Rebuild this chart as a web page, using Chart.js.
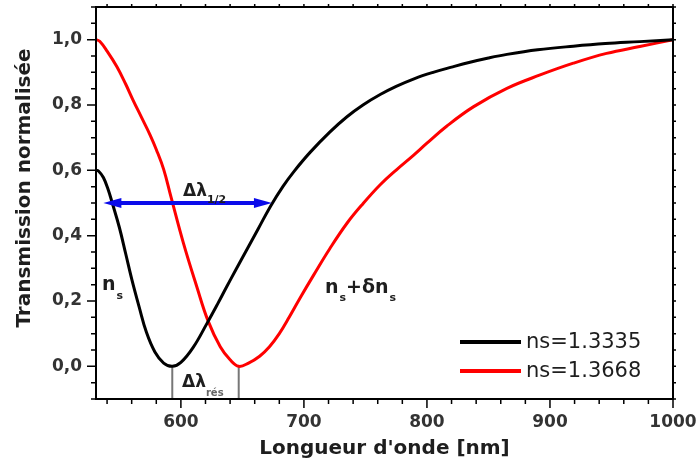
<!DOCTYPE html>
<html>
<head>
<meta charset="utf-8">
<script src="https://cdn.jsdelivr.net/npm/chart.js@4.4.1/dist/chart.umd.min.js"></script>
<style>
  html, body { margin: 0; padding: 0; background: #fff; }
  #wrap { width: 697px; height: 466px; position: relative; }
</style>
</head>
<body>
<div id="wrap"><canvas id="chart"></canvas></div>
<script>
const blackWavelength = [531, 533, 537, 541, 544, 550, 555, 560, 566, 572, 579, 586, 593, 600, 610, 621, 630, 637, 645, 653, 663, 673, 683, 692, 705, 721, 735, 748, 762, 775, 790, 805, 820, 835, 850, 865, 890, 919, 945, 973, 1000];
const blackTransmission = [0.600, 0.598, 0.578, 0.540, 0.503, 0.425, 0.347, 0.268, 0.183, 0.104, 0.043, 0.010, 0.000, 0.012, 0.058, 0.130, 0.192, 0.242, 0.298, 0.353, 0.422, 0.491, 0.551, 0.597, 0.655, 0.717, 0.764, 0.800, 0.832, 0.857, 0.881, 0.900, 0.916, 0.931, 0.944, 0.955, 0.969, 0.980, 0.988, 0.994, 1.000];
const redWavelength = [531, 534, 540, 548, 555, 561, 568, 575, 580, 586, 592, 602, 613, 622, 632, 640, 647, 655, 664, 672, 680, 688, 697, 708, 721, 735, 748, 762, 775, 789, 800, 816, 838, 865, 892, 919, 946, 973, 1000];
const redTransmission = [1.000, 0.995, 0.965, 0.917, 0.865, 0.816, 0.762, 0.708, 0.664, 0.603, 0.518, 0.378, 0.243, 0.140, 0.060, 0.020, 0.000, 0.010, 0.031, 0.060, 0.100, 0.150, 0.210, 0.280, 0.360, 0.438, 0.498, 0.556, 0.601, 0.646, 0.683, 0.735, 0.795, 0.851, 0.892, 0.928, 0.958, 0.979, 1.000];

const seriesLabels = ['ns=1.3335', 'ns=1.3668'];
const seriesColors = ['#000000', '#ff0000'];
const xTicks = [600, 700, 800, 900, 1000];
const yTicks = [0, 0.2, 0.4, 0.6, 0.8, 1.0];
const resonance = [593, 647];      // minima -> drop lines
const halfWidth = [537, 674];      // FWHM arrow ends at 0.5

const FONT = '"DejaVu Sans", Verdana, sans-serif';

function toPoints(xs, ys) {
  return xs.map((x, i) => ({ x: x, y: ys[i] }));
}

// frame, ticks, arrows, labels, legend
const decorations = {
  id: 'decorations',
  beforeDatasetsDraw(chart) {
    const ctx = chart.ctx;
    const x = chart.scales.x, y = chart.scales.y;
    ctx.save();
    ctx.strokeStyle = '#777';
    ctx.lineWidth = 2;
    resonance.forEach(r => {
      const px = x.getPixelForValue(r);
      ctx.beginPath();
      ctx.moveTo(px, y.getPixelForValue(0));
      ctx.lineTo(px, chart.chartArea.bottom);
      ctx.stroke();
    });
    ctx.restore();
  },
  afterDatasetsDraw(chart) {
    const ctx = chart.ctx;
    const a = chart.chartArea;
    const x = chart.scales.x, y = chart.scales.y;
    ctx.save();

    // blue double arrow
    const ay = y.getPixelForValue(0.5);
    const ax1 = x.getPixelForValue(halfWidth[0]);
    const ax2 = x.getPixelForValue(halfWidth[1]);
    ctx.strokeStyle = '#0b0bea';
    ctx.fillStyle = '#0b0bea';
    ctx.lineWidth = 4;
    ctx.beginPath();
    ctx.moveTo(ax1 + 8, ay);
    ctx.lineTo(ax2 - 8, ay);
    ctx.stroke();
    [[ax1, 1], [ax2, -1]].forEach(([px, d]) => {
      ctx.beginPath();
      ctx.moveTo(px, ay);
      ctx.lineTo(px + d * 18, ay - 5);
      ctx.lineTo(px + d * 18, ay + 5);
      ctx.closePath();
      ctx.fill();
    });

    // frame
    ctx.strokeStyle = '#000';
    ctx.lineWidth = 2;
    ctx.strokeRect(a.left, a.top, a.right - a.left, a.bottom - a.top);

    // ticks
    ctx.lineWidth = 1.5;
    for (let v = 540; v <= 1000; v += 20) {
      const px = x.getPixelForValue(v);
      const major = v % 100 === 0;
      ctx.beginPath();
      ctx.moveTo(px, a.bottom);
      ctx.lineTo(px, a.bottom + (major ? 9 : 5));
      ctx.moveTo(px, a.top);
      ctx.lineTo(px, a.top - 3);
      ctx.stroke();
    }
    for (let i = -2; i <= 22; i++) {
      const v = i * 0.05;
      const py = y.getPixelForValue(v);
      const major = i % 4 === 0 && i >= 0 && i <= 20;
      ctx.beginPath();
      ctx.moveTo(a.left, py);
      ctx.lineTo(a.left - (major ? 9 : 5), py);
      ctx.moveTo(a.right, py);
      ctx.lineTo(a.right + 3, py);
      ctx.stroke();
    }

    // annotation texts
    ctx.textBaseline = 'alphabetic';
    ctx.textAlign = 'left';
    function sym(parts, x0, base) {
      let cx = x0;
      parts.forEach(p => {
        ctx.font = 'bold ' + p.size + 'px ' + FONT;
        ctx.fillStyle = p.color || '#1e1e1e';
        ctx.fillText(p.t, cx, base + (p.dy || 0));
        cx += ctx.measureText(p.t).width + (p.gap || 0);
      });
    }
    sym([{ t: 'Δλ', size: 17 }, { t: '1/2', size: 11, dy: 7 }], 183, 196);
    sym([{ t: 'n', size: 19, gap: 1 }, { t: 's', size: 11, dy: 9 }], 102, 290);
    sym([{ t: 'n', size: 19, gap: 1 }, { t: 's', size: 11, dy: 8 }, { t: '+δn', size: 19, gap: 1 }, { t: 's', size: 11, dy: 8 }], 325, 293);
    sym([{ t: 'Δλ', size: 17 }, { t: 'rés', size: 10, dy: 9, color: '#666' }], 182, 387);

    // axis titles
    ctx.fillStyle = '#1e1e1e';
    ctx.font = 'bold 20px ' + FONT;
    ctx.textAlign = 'center';
    ctx.textBaseline = 'middle';
    ctx.fillText("Longueur d'onde [nm]", (a.left + a.right) / 2, 449);
    ctx.save();
    ctx.translate(25, 188);
    ctx.rotate(-Math.PI / 2);
    ctx.fillText('Transmission normalisée', 0, 0);
    ctx.restore();

    // legend
    ctx.textAlign = 'left';
    ctx.font = '21px ' + FONT;
    seriesLabels.forEach((lab, i) => {
      const ly = 342 + i * 29;
      ctx.strokeStyle = seriesColors[i];
      ctx.lineWidth = 4;
      ctx.beginPath();
      ctx.moveTo(460, ly);
      ctx.lineTo(521, ly);
      ctx.stroke();
      ctx.fillStyle = '#1e1e1e';
      ctx.fillText(lab, 526, ly + 1);
    });
    ctx.restore();
  }
};

new Chart(document.getElementById('chart'), {
  type: 'line',
  data: {
    datasets: [
      {
        label: seriesLabels[0],
        data: toPoints(blackWavelength, blackTransmission),
        borderColor: seriesColors[0],
        borderWidth: 3,
        pointRadius: 0,
        tension: 0.4
      },
      {
        label: seriesLabels[1],
        data: toPoints(redWavelength, redTransmission),
        borderColor: seriesColors[1],
        borderWidth: 3,
        pointRadius: 0,
        tension: 0.4
      }
    ]
  },
  options: {
    responsive: true,
    maintainAspectRatio: false,
    animation: false,
    layout: { padding: { left: 0, top: 7, right: 24, bottom: 0 } },
    plugins: { legend: { display: false }, tooltip: { enabled: false } },
    scales: {
      x: {
        type: 'linear',
        min: 531,
        max: 1000,
        afterBuildTicks: s => { s.ticks = xTicks.map(v => ({ value: v })); },
        afterFit: s => { s.height = 67; s.paddingLeft = 0; s.paddingRight = 0; },
        grid: { display: false, drawTicks: false },
        border: { display: false },
        ticks: {
          padding: 13,
          color: '#333',
          font: { family: FONT, size: 17, weight: 'bold' },
          maxRotation: 0,
          callback: v => String(v)
        }
      },
      y: {
        min: -0.1,
        max: 1.1,
        afterBuildTicks: s => { s.ticks = yTicks.map(v => ({ value: v })); },
        afterFit: s => { s.width = 96; s.paddingTop = 0; s.paddingBottom = 0; },
        grid: { display: false, drawTicks: false },
        border: { display: false },
        ticks: {
          padding: 14,
          color: '#333',
          font: { family: FONT, size: 17, weight: 'bold' },
          callback: v => v.toFixed(1).replace('.', ',')
        }
      }
    }
  },
  plugins: [decorations]
});
</script>
</body>
</html>
